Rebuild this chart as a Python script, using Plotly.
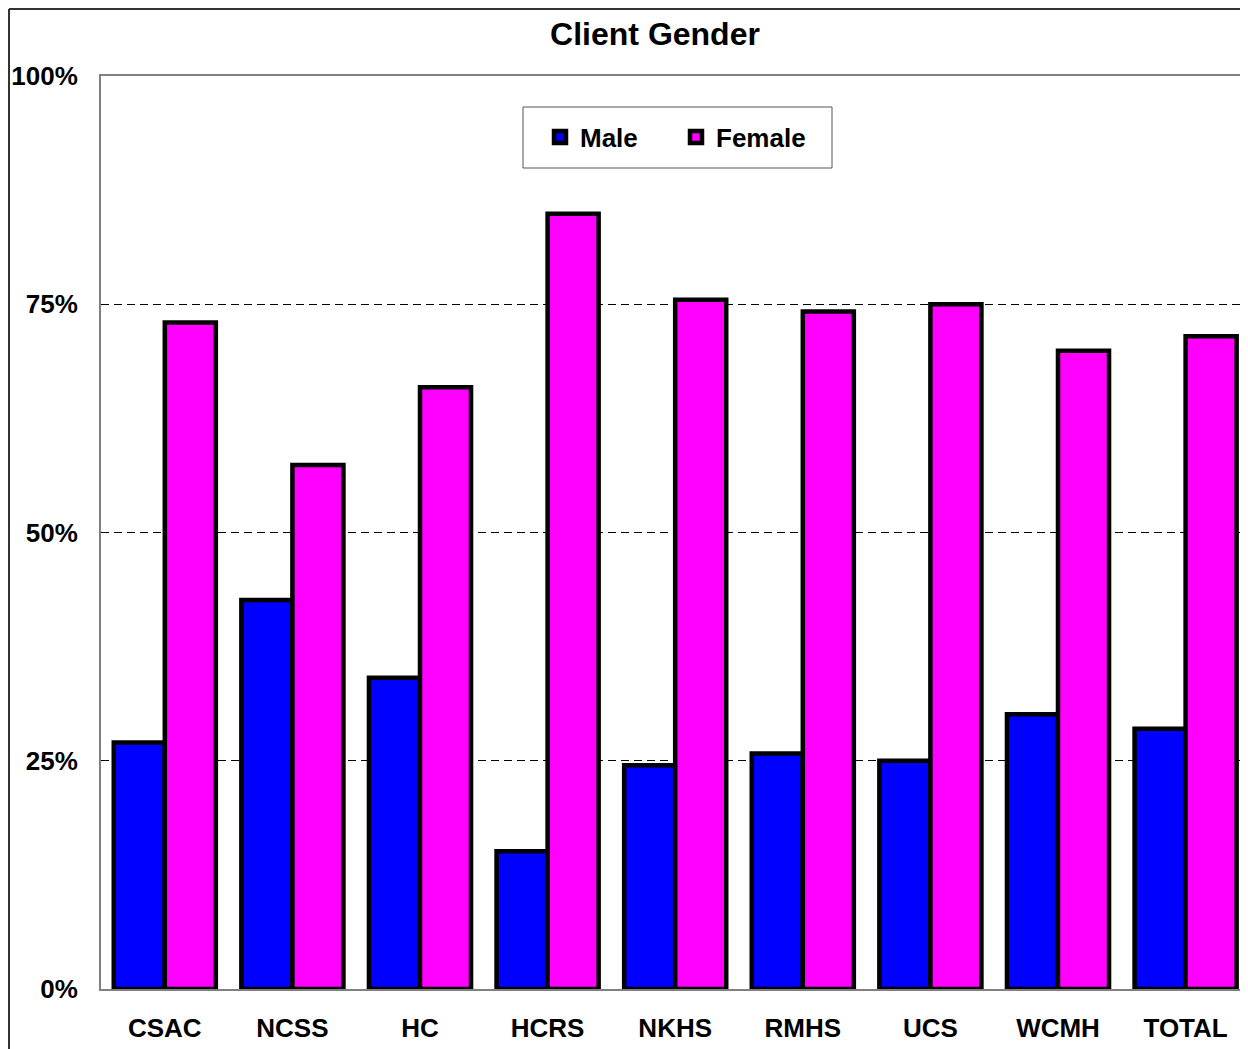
import plotly.graph_objects as go

categories = ["CSAC", "NCSS", "HC", "HCRS", "NKHS", "RMHS", "UCS", "WCMH", "TOTAL"]
male = [27.0, 42.6, 34.1, 15.1, 24.5, 25.8, 25.0, 30.1, 28.5]
female = [73.0, 57.4, 65.9, 84.9, 75.5, 74.2, 75.0, 69.9, 71.5]
y_ticks = [0, 25, 50, 75, 100]
y_tick_labels = ["0%", "25%", "50%", "75%", "100%"]

# page body has an 8px margin; work in reference-pixel coords and shift
OFF = 8
W, H = 1248 - OFF, 1049 - OFF
L = 101 - OFF
T = 76 - OFF
R = 0
B = H - (989 - OFF)
PW = W - L - R
PH = H - T - B
FONT = "Liberation Sans, Arial, sans-serif"


def px_x(px):
    # px given in reference-image coordinates
    return (px - OFF - L) / PW


def px_y(py):
    return (H - B - (py - OFF)) / PH


fig = go.Figure()
fig.add_trace(go.Bar(name="<b>Male</b>", x=categories, y=male,
                     marker=dict(color="#0000FF", line=dict(color="black", width=4.5))))
fig.add_trace(go.Bar(name="<b>Female</b>", x=categories, y=female,
                     marker=dict(color="#FF00FF", line=dict(color="black", width=4.5))))

shapes = [
    # legend box
    dict(type="rect", xref="paper", yref="paper",
         x0=px_x(523), x1=px_x(832), y0=px_y(168), y1=px_y(107),
         line=dict(color="#555555", width=1), fillcolor="white", layer="below"),
    # outer chart frame (left and top edges)
    dict(type="line", xref="paper", yref="paper",
         x0=px_x(9), x1=px_x(9), y0=px_y(9), y1=px_y(1070),
         line=dict(color="#333333", width=2)),
    dict(type="line", xref="paper", yref="paper",
         x0=px_x(9), x1=px_x(1270), y0=px_y(9), y1=px_y(9),
         line=dict(color="#333333", width=2)),
]

fig.update_layout(
    width=W, height=H,
    margin=dict(l=L, r=R, t=T, b=B, pad=0),
    paper_bgcolor="white", plot_bgcolor="white",
    font=dict(family=FONT, color="black", size=26),
    title=dict(text="<b>Client Gender</b>", x=(655 - OFF) / W, xanchor="center",
               y=1 - (34 - OFF) / H, yanchor="middle", xref="container", yref="container",
               font=dict(size=32, family=FONT, color="black")),
    barmode="group", bargap=0.2, bargroupgap=0,
    showlegend=True,
    legend=dict(orientation="h", x=px_x(540), xanchor="left",
                y=px_y(137), yanchor="middle",
                bgcolor="rgba(0,0,0,0)", borderwidth=0,
                font=dict(size=26, family=FONT, color="black"),
                entrywidth=91, entrywidthmode="pixels",
                traceorder="normal"),
    shapes=shapes,
)

fig.update_xaxes(
    range=[-0.5, 8.5 - 1.4 / 127.6],
    showline=True, linecolor="#808080", linewidth=2, mirror=True,
    ticks="", showgrid=False,
    tickfont=dict(size=26, family=FONT, color="black"),
    ticklabelstandoff=15,
    tickvals=categories, ticktext=["<b>%s</b>" % c for c in categories],
)
fig.update_yaxes(
    range=[0, 100],
    showline=True, linecolor="#808080", linewidth=2, mirror=False,
    tickvals=y_ticks, ticktext=["<b>%s</b>" % t for t in y_tick_labels],
    ticks="", showgrid=True, gridcolor="black", gridwidth=1, griddash="8px,5px",
    zeroline=False,
    tickfont=dict(size=26, family=FONT, color="black"),
    ticklabelstandoff=16,
)

fig.write_html("out.html")
